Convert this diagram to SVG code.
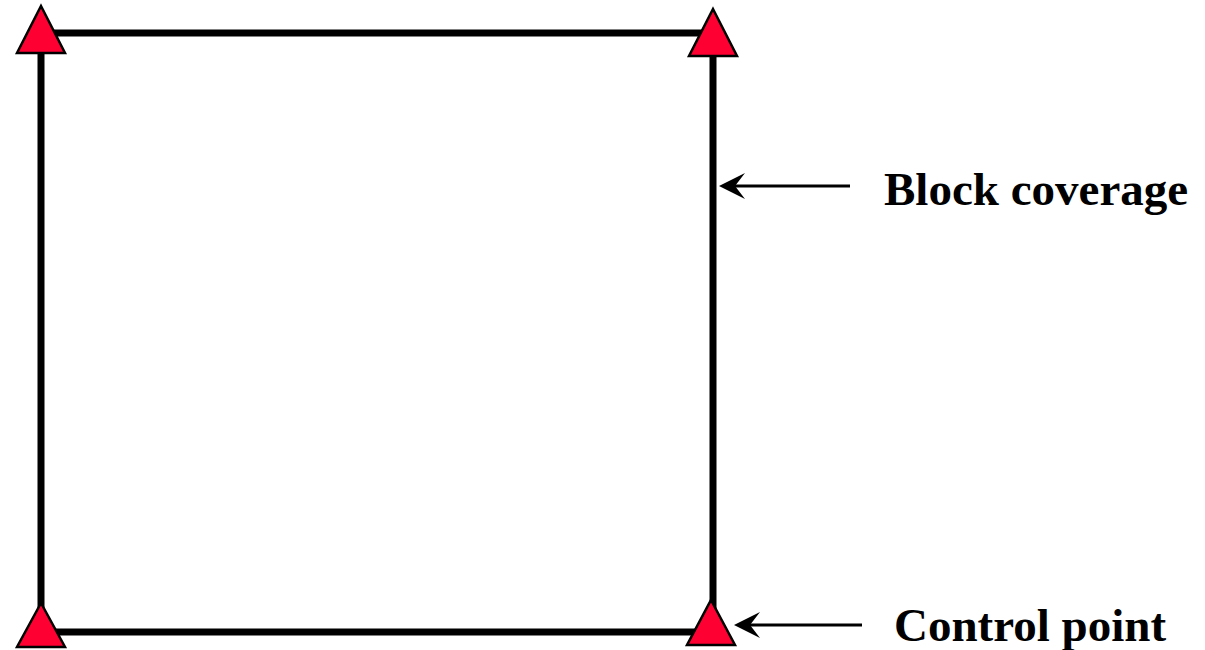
<svg xmlns="http://www.w3.org/2000/svg" width="1205" height="650" viewBox="0 0 1205 650">
<style>
.edge{stroke:#000;stroke-width:7;fill:none}
.cp{fill:#ff0033;stroke:#000;stroke-width:2.5;stroke-linejoin:miter}
.ptr{stroke:#000;stroke-width:3;fill:none}
.head{fill:#000}
.lbl{font-family:"Liberation Serif",serif;font-weight:bold;font-size:47px;fill:#000}
</style>
<g id="connectors">
<path class="edge" d="M41,33 H713 V632 H41 Z"/>
<line class="ptr" x1="850" y1="186" x2="725" y2="186"/>
<path class="head" d="M719,186 L745,173 L735,186 L745,199 Z"/>
<line class="ptr" x1="862" y1="625" x2="740" y2="625"/>
<path class="head" d="M734,625 L760,612 L750,625 L760,638 Z"/>
</g>
<g id="cp-tl"><polygon class="cp" points="41,6 65,53 17,53"/></g>
<g id="cp-tr"><polygon class="cp" points="713,9 737,56 689,56"/></g>
<g id="cp-bl"><polygon class="cp" points="41,603 65,647 17,647"/></g>
<g id="cp-br"><polygon class="cp" points="711,600 735,645 687,645"/></g>
<g id="label-block"><text class="lbl" x="884" y="205">Block coverage</text></g>
<g id="label-control"><text class="lbl" x="894" y="641">Control point</text></g>
</svg>
